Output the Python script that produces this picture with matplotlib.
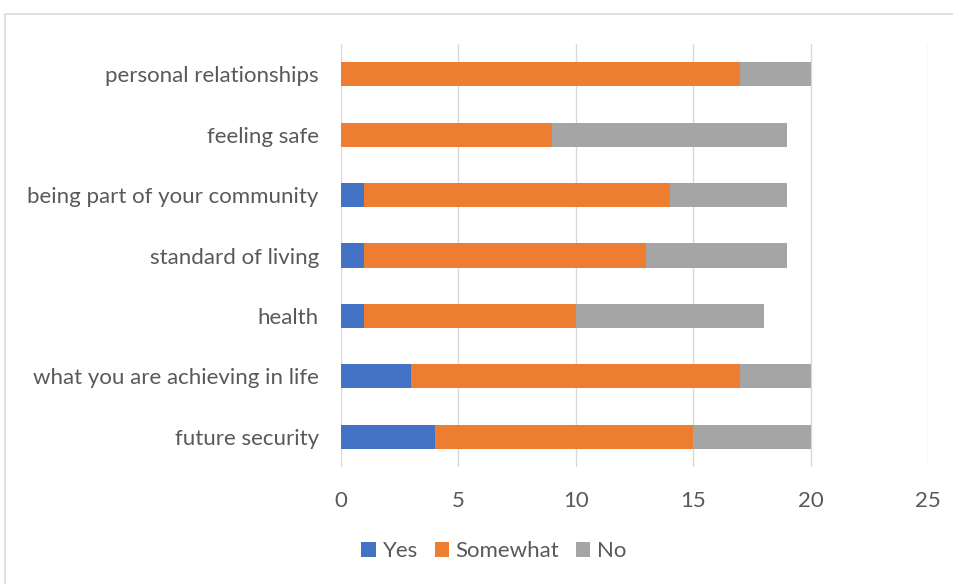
import matplotlib.pyplot as plt
from matplotlib.patches import Rectangle

categories = ['future security', 'what you are achieving in life', 'health',
              'standard of living', 'being part of your community',
              'feeling safe', 'personal relationships']
yes = [4, 3, 1, 1, 1, 0, 0]
somewhat = [11, 14, 9, 12, 13, 9, 17]
no = [5, 3, 8, 6, 5, 10, 3]

colors = {'Yes': '#4472C4', 'Somewhat': '#ED7D31', 'No': '#A5A5A5'}
plt.rcParams['font.family'] = ['Lato', 'DejaVu Sans']

fig = plt.figure(figsize=(9.54, 5.84), dpi=100)
ax = fig.add_axes([341 / 954, 117 / 584, 587 / 954, 423 / 584])

y = range(len(categories))
left2 = [a + b for a, b in zip(yes, somewhat)]
ax.barh(y, yes, height=0.4, color=colors['Yes'], label='Yes', zorder=3)
ax.barh(y, somewhat, left=yes, height=0.4, color=colors['Somewhat'], label='Somewhat', zorder=3)
ax.barh(y, no, left=left2, height=0.4, color=colors['No'], label='No', zorder=3)

ax.set_xlim(0, 25)
ax.set_ylim(-0.5, len(categories) - 0.5)
ax.set_xticks(range(0, 26, 5))
ax.set_yticks(list(y))
ax.set_yticklabels(categories)
ax.grid(axis='x', color='#d9d9d9', linewidth=1, zorder=0)
for s in ax.spines.values():
    s.set_visible(False)
ax.tick_params(length=0, labelsize=16, colors='#595959')
ax.tick_params(axis='y', pad=16)
ax.tick_params(axis='x', pad=17)

ax.legend(loc='center', bbox_to_anchor=(494 / 954, 33 / 584), bbox_transform=fig.transFigure,
          ncol=3, frameon=False, fontsize=16, handlelength=0.65, handleheight=0.65,
          handletextpad=0.3, columnspacing=0.75, labelcolor='#595959')

fig.patches.append(Rectangle((5 / 954, -0.1), 1.2, (584 - 14) / 584 + 0.1,
                             transform=fig.transFigure, fill=False,
                             edgecolor='#d9d9d9', linewidth=1.2))

fig.savefig('out.png', dpi=100, facecolor='white')
